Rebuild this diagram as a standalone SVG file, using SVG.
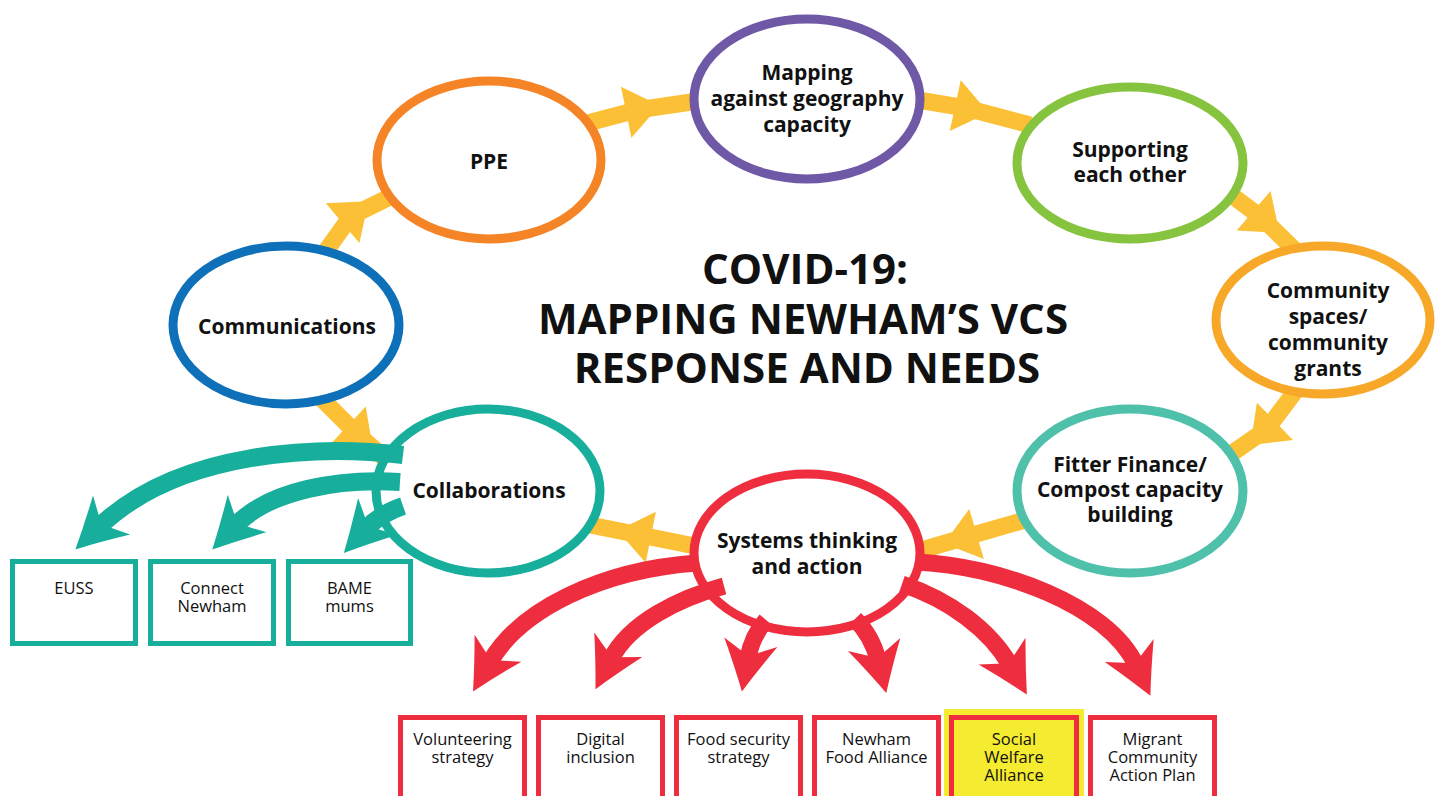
<svg xmlns="http://www.w3.org/2000/svg" width="1438" height="796" viewBox="0 0 1438 796">
  <defs>
    <style>
      .flow{fill:none;stroke:#FBC035;stroke-width:17;stroke-linejoin:round;marker-mid:url(#yHead)}
      .node ellipse{fill:#fff;stroke-width:9}
      .lbl{font-family:"Open Sans","Liberation Sans",sans-serif;font-weight:700;font-size:21px;fill:#111;text-anchor:middle}
      .title{font-family:"Open Sans","Liberation Sans",sans-serif;font-weight:700;font-size:42px;fill:#111;text-anchor:middle}
      .box rect{fill:#fff;stroke-width:5}
      .tealbox rect{stroke:#17AE9B}
      .redbox rect{stroke:#EE2E3E}
      .box rect.highlight{fill:#F5EB30;stroke:none}
      .box rect.on-yellow{fill:#F5EB30}
      .btxt{font-family:"Open Sans","Liberation Sans",sans-serif;font-size:16.5px;fill:#111;text-anchor:middle}
      .teal{fill:none;stroke:#17AF9B;stroke-width:18;marker-end:url(#tHead)}
      .red{fill:none;stroke:#EE2E3E;stroke-width:17;marker-end:url(#rHead)}
    </style>
    <!-- yellow chevron placed half-way along each cycle link -->
    <marker id="yHead" markerUnits="userSpaceOnUse" orient="auto" overflow="visible" markerWidth="1" markerHeight="1" refX="0" refY="0">
      <path d="M-11,-26 L23,0 L-11,26 Z" fill="#FBC035"/>
    </marker>
    <!-- swept arrowheads for the outcome links -->
    <marker id="tHead" markerUnits="userSpaceOnUse" orient="auto" overflow="visible" markerWidth="1" markerHeight="1" refX="0" refY="0">
      <path d="M34,0 Q10,-12 -16,-27 L-2,0 L-16,27 Q10,12 34,0 Z" fill="#17AF9B"/>
    </marker>
    <marker id="rHead" markerUnits="userSpaceOnUse" orient="auto" overflow="visible" markerWidth="1" markerHeight="1" refX="0" refY="0">
      <path d="M34,0 Q10,-12 -16,-27 L-2,0 L-16,27 Q10,12 34,0 Z" fill="#EE2E3E"/>
    </marker>
  </defs>

  <rect width="1438" height="796" fill="#fff"/>

  <!-- cycle links between the ellipses (drawn underneath them) -->
  <g id="cycle-connectors">
    <path class="flow" d="M318,262 L351,216 L396,194"/>
    <path class="flow" d="M580,125 L637,110 L705,100"/>
    <path class="flow" d="M900,97 L966,108 L1030,125"/>
    <path class="flow" d="M1222,188 L1262,218 L1300,255"/>
    <path class="flow" d="M1300,385 L1267,429 L1215,465"/>
    <path class="flow" d="M1025,520 L966,537 L915,552"/>
    <path class="flow" d="M700,547 L640,535 L590,525"/>
    <path class="flow" d="M315,392 L356,433 L398,470"/>
  </g>

  <g id="communications" class="node">
    <ellipse cx="286" cy="325" rx="113" ry="79" stroke="#0E70B8"/>
    <text class="lbl" x="287" y="334">Communications</text>
  </g>
  <g id="ppe" class="node">
    <ellipse cx="489" cy="160" rx="112" ry="79" stroke="#F58426"/>
    <text class="lbl" x="489" y="169">PPE</text>
  </g>
  <g id="mapping" class="node">
    <ellipse cx="807" cy="99" rx="113" ry="80" stroke="#6F58A5"/>
    <text class="lbl"><tspan x="807" y="80">Mapping</tspan><tspan x="807" y="106">against geography</tspan><tspan x="807" y="132">capacity</tspan></text>
  </g>
  <g id="supporting" class="node">
    <ellipse cx="1130" cy="163" rx="113" ry="76" stroke="#86C440"/>
    <text class="lbl"><tspan x="1130" y="157">Supporting</tspan><tspan x="1130" y="182">each other</tspan></text>
  </g>
  <g id="community" class="node">
    <ellipse cx="1323" cy="320" rx="107" ry="74" stroke="#F7A829"/>
    <text class="lbl"><tspan x="1328" y="298">Community</tspan><tspan x="1328" y="324">spaces/</tspan><tspan x="1328" y="350">community</tspan><tspan x="1328" y="376">grants</tspan></text>
  </g>
  <g id="fitter" class="node">
    <ellipse cx="1130" cy="491" rx="113" ry="82" stroke="#4FC1AB"/>
    <text class="lbl"><tspan x="1130" y="472">Fitter Finance/</tspan><tspan x="1130" y="497">Compost capacity</tspan><tspan x="1130" y="522">building</tspan></text>
  </g>
  <g id="systems" class="node">
    <ellipse cx="807" cy="553" rx="113" ry="79" stroke="#EE2E3E"/>
    <text class="lbl"><tspan x="807" y="548">Systems thinking</tspan><tspan x="807" y="574">and action</tspan></text>
  </g>
  <g id="collaborations" class="node">
    <ellipse cx="488" cy="491" rx="112" ry="82" stroke="#17AE9B"/>
    <text class="lbl" x="489" y="498">Collaborations</text>
  </g>

  <g id="title">
    <text class="title"><tspan x="805" y="284">COVID-19:</tspan><tspan x="803" y="334">MAPPING NEWHAM’S VCS</tspan><tspan x="807" y="383">RESPONSE AND NEEDS</tspan></text>
  </g>

  <!-- links from the hubs out to the initiative boxes -->
  <g id="outcome-connectors">
    <path class="teal" d="M403,455 C320,445 180,450 100,526"/>
    <path class="teal" d="M400,482 C340,478 270,490 236,525"/>
    <path class="teal" d="M403,506 Q380,514 367,528"/>
    <path class="red" d="M697,563 C600,570 520,610 490,662"/>
    <path class="red" d="M724,586 C680,598 630,622 611,659"/>
    <path class="red" d="M766,620 Q752,636 748,658"/>
    <path class="red" d="M855,619 Q872,636 878,660"/>
    <path class="red" d="M902,584 C950,600 990,630 1010,665"/>
    <path class="red" d="M917,562 C1000,566 1108,605 1136,665"/>
  </g>

  <g id="euss" class="box tealbox">
    <rect x="12.5" y="561.5" width="123" height="82"/>
    <text class="btxt" x="74" y="594">EUSS</text>
  </g>
  <g id="connect-newham" class="box tealbox">
    <rect x="150.5" y="561.5" width="123" height="82"/>
    <text class="btxt"><tspan x="212" y="594">Connect</tspan><tspan x="212" y="612">Newham</tspan></text>
  </g>
  <g id="bame-mums" class="box tealbox">
    <rect x="288.5" y="561.5" width="122" height="82"/>
    <text class="btxt"><tspan x="349.5" y="594">BAME</tspan><tspan x="349.5" y="612">mums</tspan></text>
  </g>

  <g id="volunteering" class="box redbox">
    <rect x="400.5" y="717.5" width="124" height="100"/>
    <text class="btxt"><tspan x="462.5" y="745">Volunteering</tspan><tspan x="462.5" y="763">strategy</tspan></text>
  </g>
  <g id="digital" class="box redbox">
    <rect x="538.5" y="717.5" width="124" height="100"/>
    <text class="btxt"><tspan x="600.5" y="745">Digital</tspan><tspan x="600.5" y="763">inclusion</tspan></text>
  </g>
  <g id="food-security" class="box redbox">
    <rect x="676.5" y="717.5" width="124" height="100"/>
    <text class="btxt"><tspan x="738.5" y="745">Food security</tspan><tspan x="738.5" y="763">strategy</tspan></text>
  </g>
  <g id="food-alliance" class="box redbox">
    <rect x="814.5" y="717.5" width="124" height="100"/>
    <text class="btxt"><tspan x="876.5" y="745">Newham</tspan><tspan x="876.5" y="763">Food Alliance</tspan></text>
  </g>
  <g id="social-welfare" class="box redbox">
    <rect class="highlight" x="944" y="709" width="140" height="100"/>
    <rect class="on-yellow" x="951.5" y="717.5" width="125" height="100"/>
    <text class="btxt"><tspan x="1014" y="745">Social</tspan><tspan x="1014" y="763">Welfare</tspan><tspan x="1014" y="781">Alliance</tspan></text>
  </g>
  <g id="migrant" class="box redbox">
    <rect x="1090.5" y="717.5" width="124" height="100"/>
    <text class="btxt"><tspan x="1152.5" y="745">Migrant</tspan><tspan x="1152.5" y="763">Community</tspan><tspan x="1152.5" y="781">Action Plan</tspan></text>
  </g>
</svg>
